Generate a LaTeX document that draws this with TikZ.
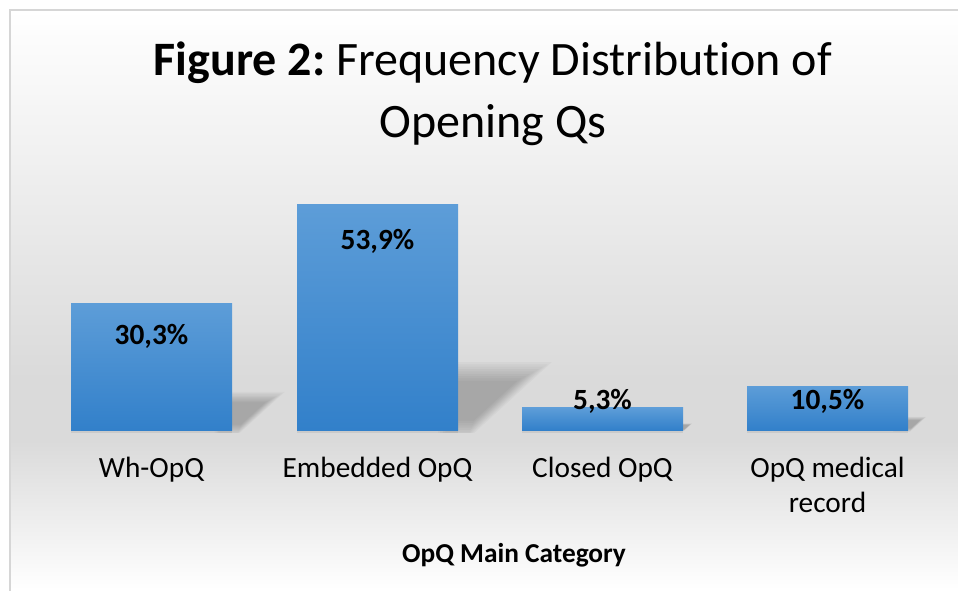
\documentclass[tikz,border=0pt]{standalone}
\usepackage{fontspec}
\setmainfont{Carlito}[Ligatures=NoCommon]
\usepackage{tikz}
\usetikzlibrary{calc,positioning}
\definecolor{barTop}{RGB}{93,157,216}
\definecolor{barBottom}{RGB}{50,128,202}
\definecolor{chartGrey}{RGB}{218,218,218}
\definecolor{frameGrey}{RGB}{214,214,214}

\begin{document}
\begin{tikzpicture}[x=0.75pt,y=-0.75pt,
  titlelabel/.style={font=\fontsize{36}{46.5}\selectfont, align=center, anchor=base},
  valuelabel/.style={font=\fontsize{22}{26}\selectfont\bfseries, anchor=base},
  catlabel/.style={font=\fontsize{22}{26.25}\selectfont, align=center, anchor=base},
  axislabel/.style={font=\fontsize{20.5}{25}\selectfont\bfseries, anchor=base}]
\useasboundingbox (0,0) rectangle (958,590);
% background
\shade[top color=white, bottom color=chartGrey] (10,10) rectangle (958,380);
\fill[chartGrey] (10,379) rectangle (958,441);
\shade[top color=chartGrey, bottom color=white] (10,440) rectangle (958,590);

% base anchor = baseline of the last line
\node[titlelabel] (title) at (493,137) {{\bfseries Figure 2:}~Frequency Distribution of\\Opening Qs};

\foreach \val/\txt/\cx/\vy/\cy/\cat [count=\i] in {
  30.3/{30,3\%}/151.5/344/477/Wh-OpQ,
  53.9/{53,9\%}/377.5/249/477/Embedded OpQ,
  5.3/{5,3\%}/602.5/409/477/Closed OpQ,
  10.5/{10,5\%}/827.5/409/512/{OpQ medical\\record}}
{
  \pgfmathsetmacro\h{4.18*\val}
  \pgfmathsetmacro\ytop{430-\h}
  \pgfmathsetmacro\xl{\cx-80.5}
  \pgfmathsetmacro\xr{\cx+80.5}
  \pgfmathsetmacro\sy{430-0.26*\h}
  \pgfmathsetmacro\sx{\xr+0.34*\h}
  \pgfmathsetmacro\bx{\xr+0.055*\h}
  \pgfmathsetmacro\mx{\xr+0.1*\h}
  \pgfmathsetmacro\my{430-0.13*\h}
  % soft shadow
  \begin{scope}
    \clip (\xr-20,0) rectangle (\xr+200,432);
    \foreach \s in {1.32,1.24,1.16,1.08,1.0,0.92,0.84,0.76,0.68}
      \fill[black, opacity=.027, scale around={\s:(\mx,\my)}]
        (\xr-10,\sy) -- (\sx,\sy) -- (\bx,430) -- (\xr-10,430) -- cycle;
  \end{scope}
  \fill[black, opacity=.07] (\xl,430) rectangle (\xr,433);
  % bar
  \shade[top color=barTop, bottom color=barBottom] (\xl,\ytop) rectangle (\xr,430);
  \node[valuelabel] (v\i) at (\cx,\vy) {\txt};
  \node[catlabel] (c\i) at (\cx,\cy) {\cat};
}

\node[axislabel] (axis) at (514,562) {OpQ Main Category};

% frame
\draw[frameGrey, line width=1.5] (10,600) -- (10,10) -- (970,10);
\end{tikzpicture}
\end{document}
